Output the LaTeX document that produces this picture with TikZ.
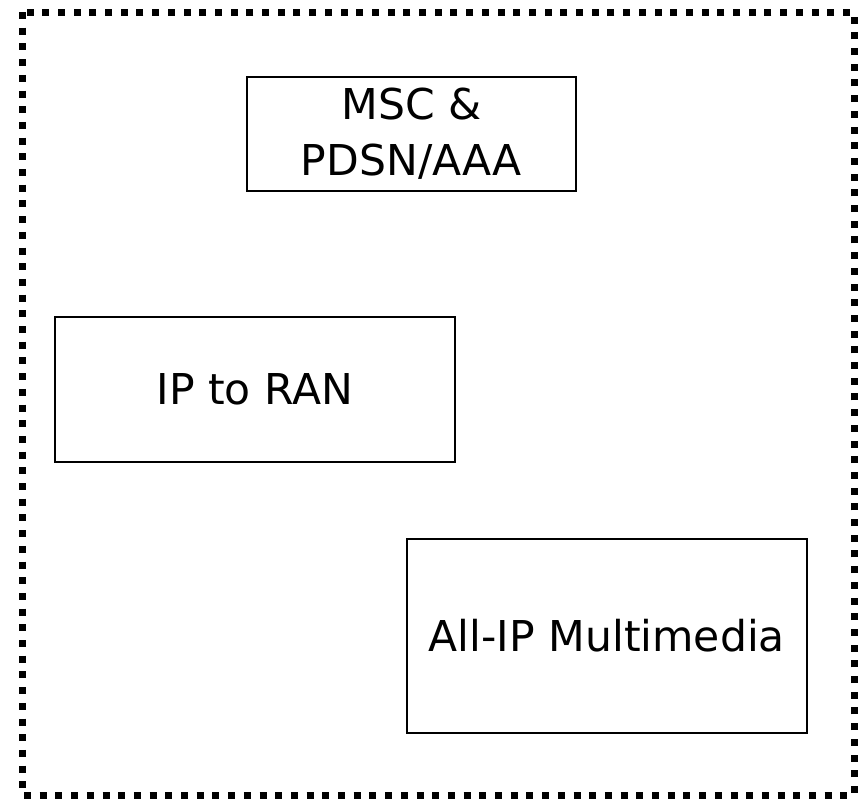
\documentclass[tikz,border=0pt]{standalone}
\usepackage{fontspec}
\setmainfont{DejaVu Sans}
\usetikzlibrary{positioning}

\begin{document}
\begin{tikzpicture}[
  x=1pt, y=-1pt,
  blk/.style={draw, line width=1.8pt, align=center, inner sep=0pt, font=\fontsize{42.5}{56}\selectfont},
  frame/.style={line width=7pt, dash pattern=on 7pt off 8.7pt}
]
\useasboundingbox (0,0) rectangle (858,798);
\draw[frame] (22,12) rectangle (854,795);
\node[blk, minimum width=329pt, minimum height=114pt, anchor=north west] (msc) at (246,76) {MSC \&\\PDSN/AAA};
\node[blk, minimum width=400pt, minimum height=145pt, anchor=north west] (ran) at (54,316) {IP to RAN};
\node[blk, minimum width=400pt, minimum height=194pt, anchor=north west] (mm) at (406,538) {All-IP Multimedia};
\end{tikzpicture}
\end{document}
